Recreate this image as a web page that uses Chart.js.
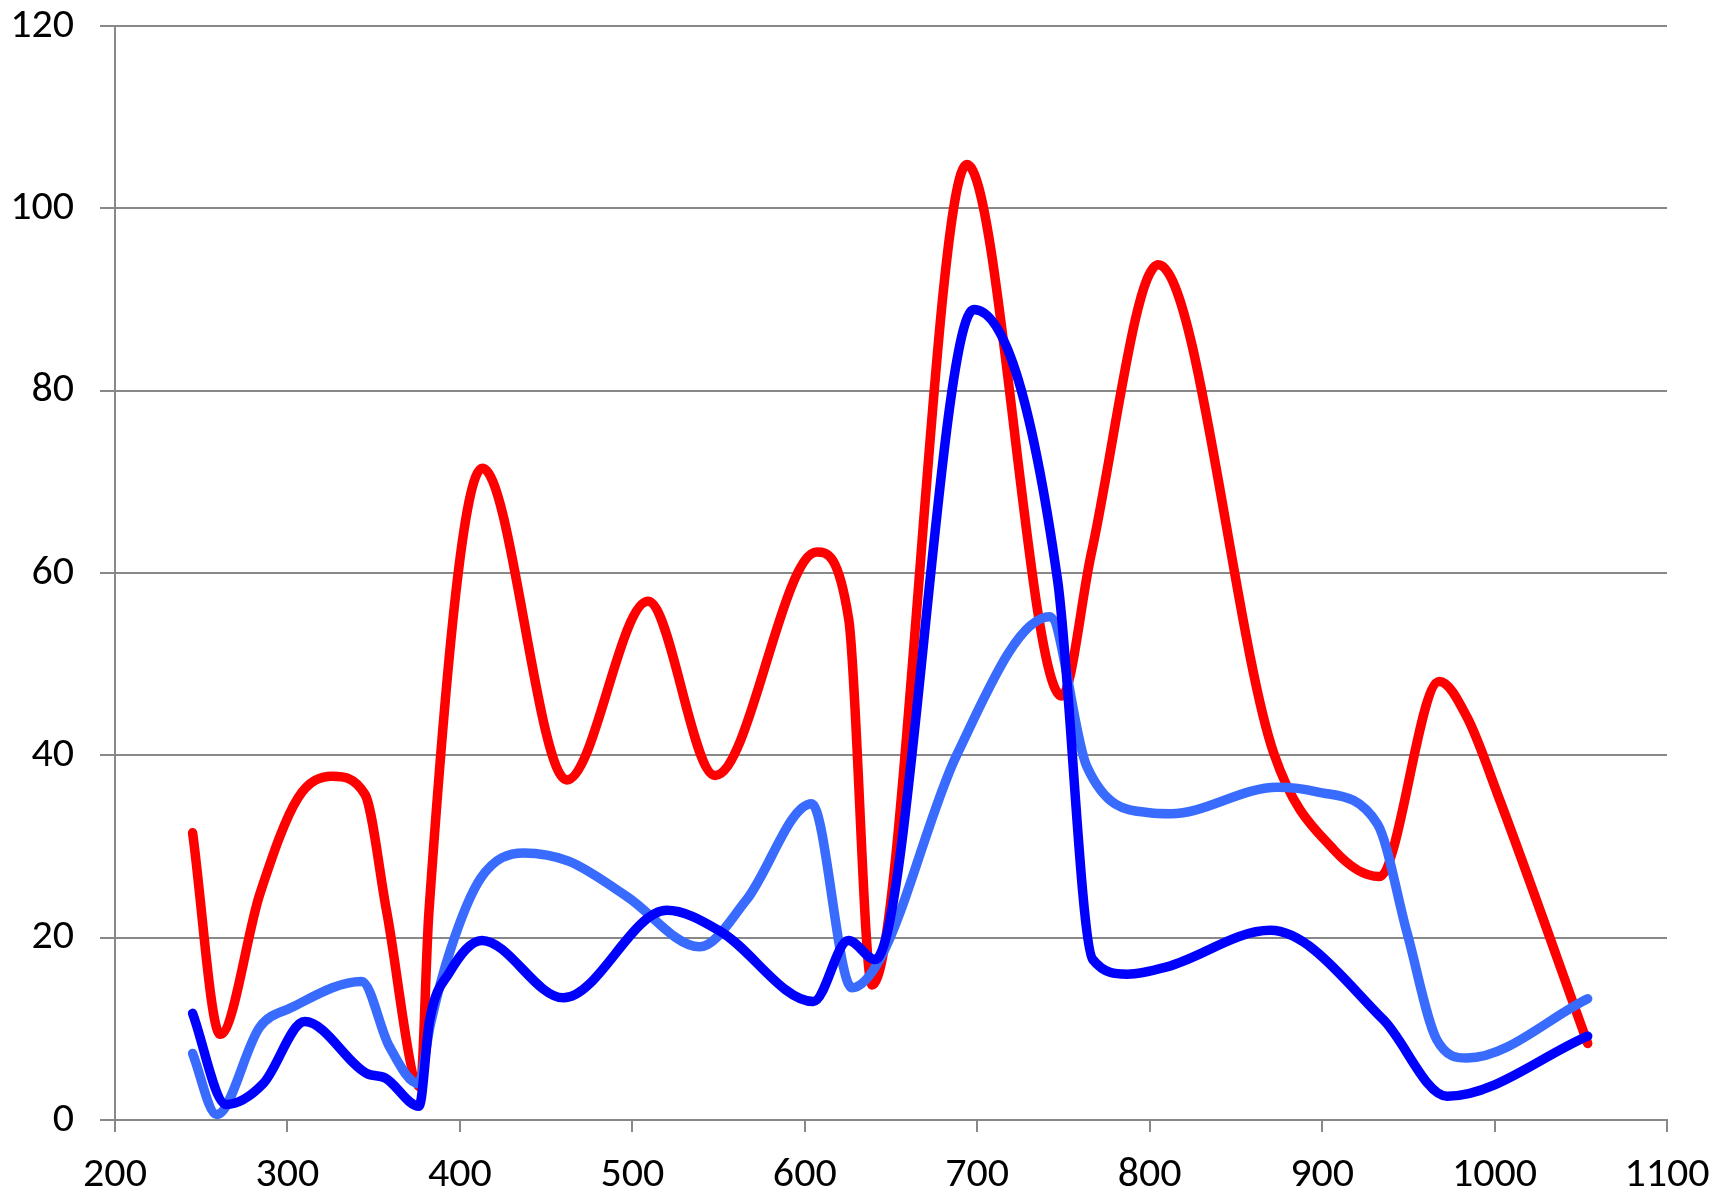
<!DOCTYPE html>
<html>
<head>
<meta charset="utf-8">
<script src="https://cdn.jsdelivr.net/npm/chart.js@4/dist/chart.umd.min.js"></script>
<style>
  html,body{margin:0;padding:0;background:#fff;}
  #wrap{width:1715px;height:1196px;}
</style>
</head>
<body>
<div id="wrap"><canvas id="spectra" width="1715" height="1196"></canvas></div>
<script>
// points (x, y) for each curve
const redX   = [245, 261, 284, 306, 326, 345, 357.5, 377, 382, 413, 462, 509, 548, 607, 625.5, 639, 694, 749, 766, 805, 872, 907, 933, 968, 984, 1003, 1054];
const redY   = [31.5, 9.4, 24.8, 35.3, 37.7, 35.7, 22.9, 3.6, 22.7, 71.5, 37.3, 56.9, 37.8, 62.3, 54.9, 14.8, 104.8, 46.5, 62.0, 93.8, 40.2, 29.6, 26.7, 48.1, 44.2, 35.1, 8.4];

const darkX  = [245, 264.5, 286, 310, 346, 356.7, 376.3, 382.5, 394, 412.7, 460, 520, 551, 605, 625.3, 640.8, 698, 746.6, 767, 787, 810, 870, 935.5, 972.5, 1054];
const darkY  = [11.7, 1.7, 4.0, 10.8, 5.1, 4.6, 1.5, 11.0, 16.2, 19.7, 13.4, 23.0, 20.7, 13.0, 19.7, 17.6, 88.9, 59.2, 17.6, 16.0, 16.8, 20.8, 11.0, 2.6, 9.2];

const lightX = [245, 259, 284, 302, 343, 359, 376, 383, 394.4, 412, 437, 463, 497, 539, 566, 604, 627.3, 644, 688, 742, 763.5, 800, 812, 874, 897, 932, 949.3, 966.5, 984, 1054];
const lightY = [7.3, 0.6, 10.2, 12.3, 15.2, 8.1, 4.0, 10.6, 18.6, 26.5, 29.3, 28.4, 24.5, 19.0, 24.1, 34.7, 14.5, 17.8, 40.0, 55.2, 38.8, 33.7, 33.6, 36.5, 36.0, 32.5, 20.5, 8.8, 6.8, 13.3];

const xMin = 200, xMax = 1100, xStep = 100;
const yMin = 0, yMax = 120, yStep = 20;

const toPts = (xs, ys) => xs.map((x, i) => ({x: x, y: ys[i]}));
const gridGrey = '#888888';
const tickFont = {family: 'Carlito, Lato, "Open Sans", sans-serif', size: 42};

new Chart(document.getElementById('spectra'), {
  type: 'line',
  data: {
    datasets: [
      {data: toPts(darkX, darkY),  borderColor: '#0000ff', order: 0},
      {data: toPts(lightX, lightY), borderColor: '#3a6bff', order: 1},
      {data: toPts(redX, redY),    borderColor: '#ff0000', order: 2}
    ].map(d => Object.assign(d, {
      borderWidth: 9.5,
      pointRadius: 0,
      fill: false,
      cubicInterpolationMode: 'monotone',
      borderCapStyle: 'round',
      borderJoinStyle: 'round'
    }))
  },
  options: {
    responsive: false,
    animation: false,
    events: [],
    layout: {padding: {left: 0, right: 48, top: 26, bottom: 0}},
    plugins: {legend: {display: false}, tooltip: {enabled: false}},
    scales: {
      x: {
        type: 'linear',
        min: xMin, max: xMax,
        ticks: {stepSize: xStep, color: '#000', font: tickFont, padding: 18, maxRotation: 0,
                callback: v => String(v)},
        grid: {drawOnChartArea: false, drawTicks: true, tickLength: 12, color: gridGrey, lineWidth: 2},
        border: {display: true, color: gridGrey, width: 2},
        afterFit: s => { s.height = 76; s.paddingLeft = 0; s.paddingRight = 0; }
      },
      y: {
        min: yMin, max: yMax,
        ticks: {stepSize: yStep, color: '#000', font: tickFont, padding: 26,
                callback: v => String(v)},
        grid: {drawOnChartArea: true, drawTicks: true, tickLength: 15, color: gridGrey, lineWidth: 2},
        border: {display: true, color: gridGrey, width: 2},
        afterFit: s => { s.width = 115; s.paddingTop = 0; s.paddingBottom = 0; }
      }
    }
  }
});
</script>
</body>
</html>
